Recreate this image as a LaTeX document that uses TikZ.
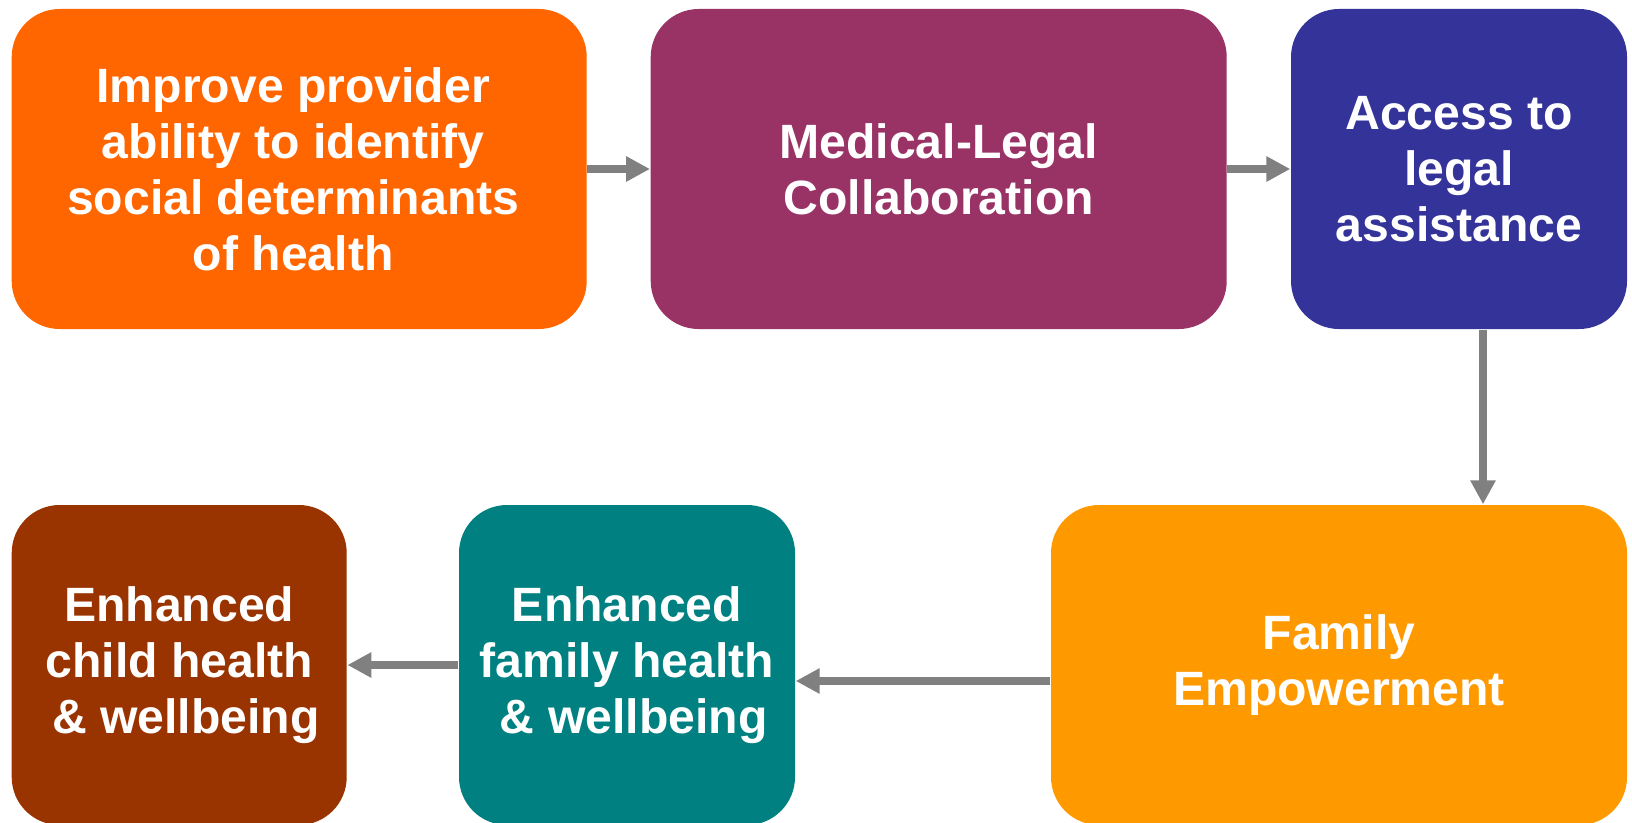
\documentclass[tikz,border=0pt]{standalone}
\usepackage{fontspec}
\setmainfont{Liberation Sans}
\usepackage{xcolor}
\usetikzlibrary{arrows.meta}

\definecolor{stepOrange}{HTML}{FF6600}
\definecolor{stepPurple}{HTML}{993366}
\definecolor{stepBlue}{HTML}{333399}
\definecolor{stepAmber}{HTML}{FF9900}
\definecolor{stepTeal}{HTML}{008080}
\definecolor{stepBrown}{HTML}{993300}
\definecolor{flowGray}{HTML}{808080}

\begin{document}
\begin{tikzpicture}[
    stagetext/.style={text=white, align=center, font=\fontsize{13.7pt}{15.9pt}\selectfont\bfseries},
    stage/.style={stagetext, rounded corners=0.48cm, minimum height=3.2cm, inner sep=0pt},
    flow/.style={draw=flowGray, line width=0.08cm, -{Triangle[length=0.24cm, width=0.24cm]}}
]
    \useasboundingbox (0,0) rectangle (16.32,8.22);

    % Top row
    \node[stage, fill=stepOrange, minimum width=5.75cm,
        label={[stagetext, xshift=-0.06cm]center:{Improve provider\\ability to identify\\social determinants\\of health}}]
        (improve) at (2.992,6.53) {};
    \node[stage, fill=stepPurple, minimum width=5.76cm] (mlc) at (9.387,6.53) {Medical-Legal\\Collaboration};
    \node[stage, fill=stepBlue, minimum width=3.36cm] (access) at (14.59,6.53) {Access to\\legal\\assistance};

    % Bottom row
    \node[stage, fill=stepAmber, minimum width=5.76cm] (empower) at (13.39,1.57) {Family\\Empowerment};
    \node[stage, fill=stepTeal, minimum width=3.36cm] (family) at (6.27,1.57) {Enhanced\\family health\\\ \& wellbeing};
    \node[stage, fill=stepBrown, minimum width=3.35cm] (child) at (1.792,1.57) {Enhanced\\child health\\\ \& wellbeing};

    % Arrows
    \draw[flow] (improve) -- (mlc);
    \draw[flow] (mlc) -- (access);
    \draw[flow] ([xshift=0.24cm]access.south) -- ([xshift=0.24cm]access.south |- empower.north);
    \draw[flow] ([yshift=-0.16cm]empower.west) -- ([yshift=-0.16cm]empower.west -| family.east);
    \draw[flow] (family) -- (child);
\end{tikzpicture}
\end{document}
